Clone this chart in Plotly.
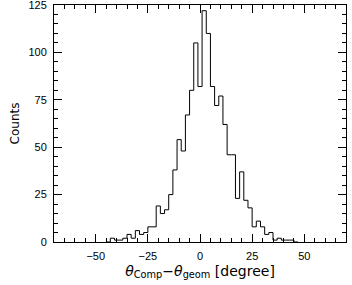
import plotly.graph_objects as go

# Histogram data (bin centers in degrees, bin width 2)
bin_centers = [-44, -42, -40, -38, -36, -34, -32, -30, -28, -26, -24, -22, -20, -18,
               -16, -14, -12, -10, -8, -6, -4, -2, 0, 2, 4, 6, 8, 10, 12, 14, 16,
               18, 20, 22, 24, 26, 28, 30, 32, 34, 36, 38, 40, 42, 44, 46]
counts = [0, 2, 1, 1, 2, 4, 2, 6, 4, 5, 8, 8, 19, 15,
          17, 25, 38, 54, 48, 67, 80, 105, 82, 122, 110, 82, 72, 77, 62, 46, 46,
          23, 37, 22, 18, 8, 11, 8, 4, 5, 1, 2, 1, 1, 1, 0]
bin_width = 2

x_ticks = [-50, -25, 0, 25, 50]
y_ticks = [0, 25, 50, 75, 100, 125]

edges = [c - bin_width / 2 for c in bin_centers] + [bin_centers[-1] + bin_width / 2]
ys = counts + [counts[-1]]

fig = go.Figure(go.Scatter(x=edges, y=ys, mode="lines",
                           line=dict(shape="hv", color="black", width=1),
                           hoverinfo="skip", showlegend=False))

tick_font = dict(family="Liberation Sans, Arial, sans-serif", size=11, color="black")
title_font = dict(family="DejaVu Sans, sans-serif", size=14, color="black")

axis_common = dict(showgrid=False, zeroline=False, showline=True, linecolor="black",
                   linewidth=1, mirror="ticks", ticks="inside", ticklen=8,
                   tickwidth=1, tickcolor="black", tickfont=tick_font,
                   automargin=False, ticklabeloverflow="allow", ticklabelstandoff=4)

fig.update_xaxes(range=[-70, 70], tickvals=x_ticks,
                 minor=dict(dtick=5, ticks="inside", ticklen=4, tickcolor="black"),
                 title=dict(text="<i>θ</i><sub>Comp</sub>−<i>θ</i><sub>geom</sub> [degree]",
                            font=title_font, standoff=4),
                 **axis_common)
fig.update_yaxes(range=[0, 125], tickvals=y_ticks,
                 minor=dict(dtick=5, ticks="inside", ticklen=4, tickcolor="black"),
                 title=dict(text="Counts", font=dict(title_font, size=12), standoff=6),
                 **axis_common)

fig.update_layout(width=352, height=285, margin=dict(l=54, r=6, t=5, b=43),
                  paper_bgcolor="white", plot_bgcolor="white", font=tick_font)

fig.write_html("out.html", config={"displayModeBar": False},
               post_script="document.body.style.margin='0';")
